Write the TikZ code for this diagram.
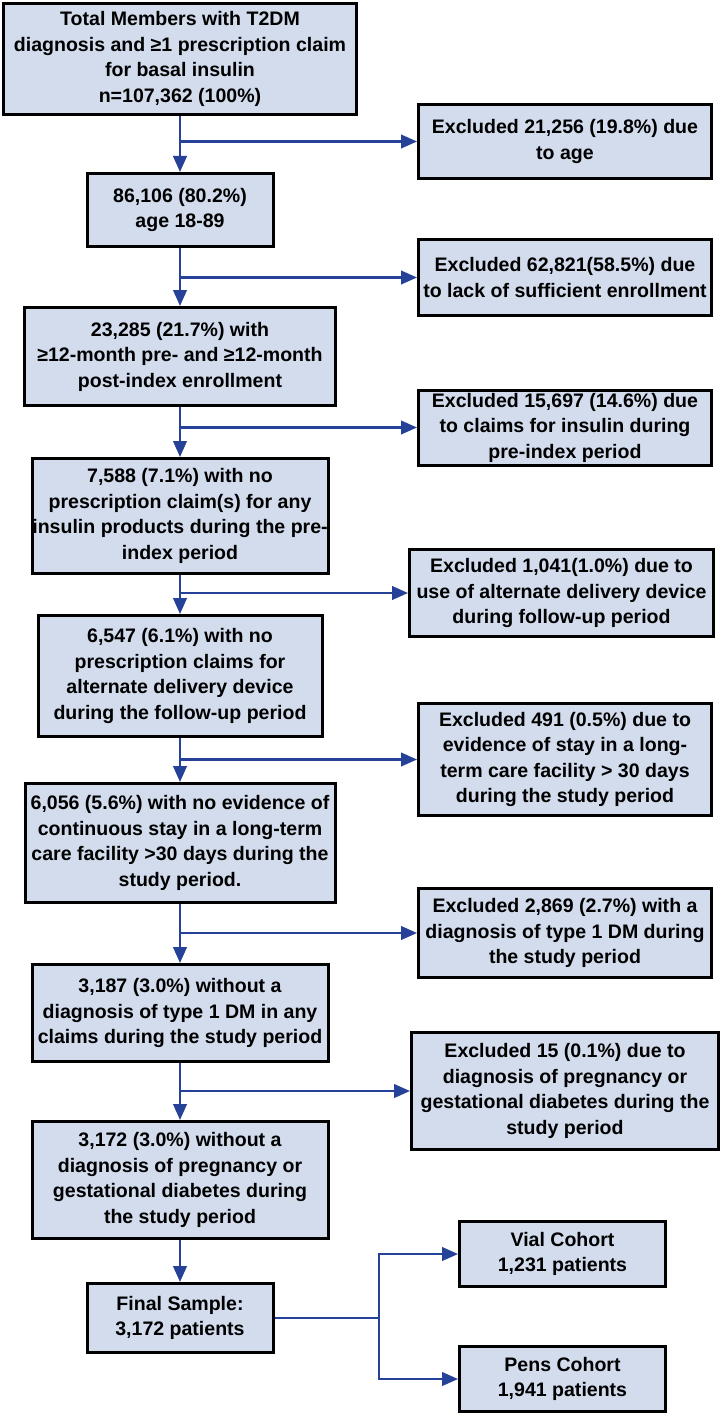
\documentclass[tikz,border=0pt]{standalone}
\usepackage{fontspec}
\setmainfont{Liberation Sans}
\usetikzlibrary{arrows.meta}
\definecolor{boxfill}{RGB}{210,220,237}
\definecolor{flowblue}{RGB}{38,66,152}

\begin{document}
\begin{tikzpicture}[x=0.25mm,y=-0.25mm,
  box/.style={draw=black,line width=0.75mm,fill=boxfill,align=center,inner sep=0pt,
    font=\fontsize{13.9}{18.1}\selectfont\bfseries},
  boxsize/.style 2 args={minimum width=#1*0.25mm,minimum height=#2*0.25mm},
  flow/.style={draw=flowblue,line width=0.55mm},
  flowarrow/.style={flow,-{Triangle[length=4mm,width=3.4mm]}}]

\useasboundingbox (0,0) rectangle (722,1416);

% main column
\node[box,boxsize={353}{111}] (total) at (180,59) {Total Members with T2DM\\diagnosis and ≥1 prescription claim\\for basal insulin\\n=107,362 (100\%)};
\node[box,boxsize={186}{73}] (age) at (180,210) {86,106 (80.2\%)\\age 18-89};
\node[box,boxsize={311}{98}] (enrol) at (180,356.5) {23,285 (21.7\%) with\\≥12-month pre- and ≥12-month\\post-index enrollment};
\node[box,boxsize={296}{115}] (noins) at (180,516) {7,588 (7.1\%) with no\\prescription claim(s) for any\\insulin products during the pre-\\index period};
\node[box,boxsize={284}{121}] (nodev) at (180,676) {6,547 (6.1\%) with no\\prescription claims for\\alternate delivery device\\during the follow-up period};
\node[box,boxsize={310}{119}] (nostay) at (180,843) {6,056 (5.6\%) with no evidence of\\continuous stay in a long-term\\care facility >30 days during the\\study period.};
\node[box,boxsize={296}{97}] (notype) at (180,1013) {3,187 (3.0\%) without a\\diagnosis of type 1 DM in any\\claims during the study period};
\node[box,boxsize={296}{117}] (nopreg) at (180,1180) {3,172 (3.0\%) without a\\diagnosis of pregnancy or\\gestational diabetes during\\the study period};
\node[box,boxsize={186}{69}] (final) at (180,1318) {Final Sample:\\3,172 patients};

% exclusions
\node[box,boxsize={293}{74}] (ex1) at (565,141.5) {Excluded 21,256 (19.8\%) due\\to age};
\node[box,boxsize={293}{76}] (ex2) at (565,277.5) {Excluded 62,821(58.5\%) due\\to lack of sufficient enrollment};
\node[box,boxsize={293}{75}] (ex3) at (565,427.5) {Excluded 15,697 (14.6\%) due\\to claims for insulin during\\pre-index period};
\node[box,boxsize={304}{87}] (ex4) at (561.5,593) {Excluded 1,041(1.0\%) due to\\use of alternate delivery device\\during follow-up period};
\node[box,boxsize={293}{112}] (ex5) at (565,759.5) {Excluded 491 (0.5\%) due to\\evidence of stay in a long-\\term care facility > 30 days\\during the study period};
\node[box,boxsize={293}{89}] (ex6) at (565,933) {Excluded 2,869 (2.7\%) with a\\diagnosis of type 1 DM during\\the study period};
\node[box,boxsize={307}{117}] (ex7) at (565,1091) {Excluded 15 (0.1\%) due to\\diagnosis of pregnancy or\\gestational diabetes during the\\study period};

% cohorts
\node[box,boxsize={206}{65}] (vial) at (562.5,1254) {Vial Cohort\\1,231 patients};
\node[box,boxsize={206}{65}] (pens) at (562.5,1379) {Pens Cohort\\1,941 patients};

\draw[flowarrow] (total.south) -- (age.north);
\draw[flowarrow] (age.south) -- (enrol.north);
\draw[flowarrow] (enrol.south) -- (noins.north);
\draw[flowarrow] (noins.south) -- (nodev.north);
\draw[flowarrow] (nodev.south) -- (nostay.north);
\draw[flowarrow] (nostay.south) -- (notype.north);
\draw[flowarrow] (notype.south) -- (nopreg.north);
\draw[flowarrow] (nopreg.south) -- (final.north);

\draw[flowarrow] (total.south |- ex1.west) -- (ex1.west);
\draw[flowarrow] (age.south |- ex2.west) -- (ex2.west);
\draw[flowarrow] (enrol.south |- ex3.west) -- (ex3.west);
\draw[flowarrow] (noins.south |- ex4.west) -- (ex4.west);
\draw[flowarrow] (nodev.south |- ex5.west) -- (ex5.west);
\draw[flowarrow] (nostay.south |- ex6.west) -- (ex6.west);
\draw[flowarrow] (notype.south |- ex7.west) -- (ex7.west);

\coordinate (fork) at (379,1318);
\draw[flow] (final.east) -- (fork);
\draw[flowarrow] (fork) |- (vial.west);
\draw[flowarrow] (fork) |- (pens.west);
\end{tikzpicture}
\end{document}
